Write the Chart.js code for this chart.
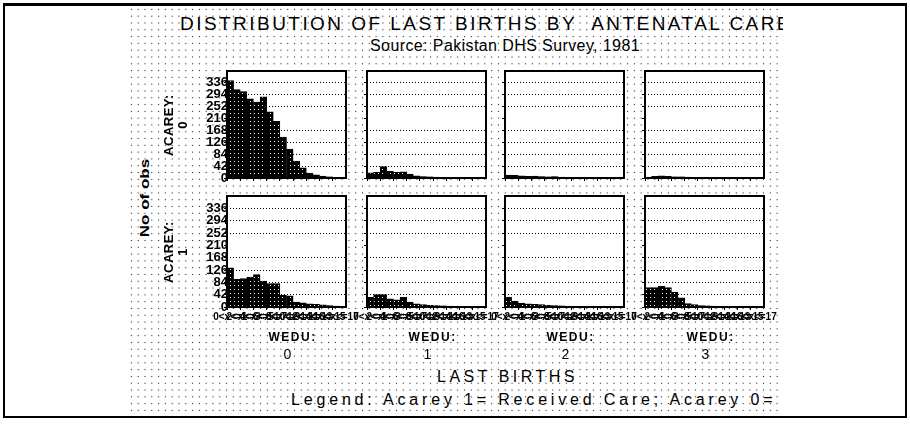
<!DOCTYPE html>
<html lang="en">
<head>
<meta charset="UTF-8">
<title>Distribution of last births by antenatal care</title>
<script src="https://cdn.jsdelivr.net/npm/chart.js@4.4.1/dist/chart.umd.min.js"></script>
<style>
  html, body { margin: 0; padding: 0; background: #fff; }
  body { width: 910px; height: 426px; position: relative; overflow: hidden;
         font-family: "Liberation Sans", Arial, sans-serif; color: #000; }
  .frame { position: absolute; left: 3px; top: 3px; width: 900px; height: 410px;
           border: 2px solid #000; border-top-width: 3px; }
  .dots { position: absolute; left: 128px; top: 6px; width: 655px; height: 407px; overflow: hidden;
          background-image: radial-gradient(circle, #222 0.55px, transparent 1px);
          background-size: 6.8px 6.8px; }
  .dots canvas { position: absolute; left: -128px; top: -6px; }
  .t { position: absolute; white-space: pre; line-height: 1; transform: translateY(-50%); }
  .rot { position: absolute; white-space: pre; line-height: 1.05; text-align: center;
         transform: translate(-50%, -50%) rotate(-90deg); }
</style>
</head>
<body>
<div class="frame"></div>
<div class="dots" id="plot">
  <div class="t" id="title" style="font-size:19px; left:52px; top:17px;">DISTRIBUTION OF LAST BIRTHS BY  ANTENATAL CARE</div>
  <div class="t" id="subtitle" style="font-size:16px; left:242px; top:40px;">Source: Pakistan DHS Survey, 1981</div>
  <div class="rot" style="font-size:17px; font-weight:bold; left:17px; top:192px; transform: translate(-50%,-50%) rotate(-90deg) scaleY(0.7);">No of obs</div>
  <div class="t" id="xtitle" style="font-size:16px; left:309px; top:371px;">LAST BIRTHS</div>
  <div class="t" id="legend" style="font-size:16px; left:163px; top:394px;">Legend: Acarey 1= Received Care; Acarey 0= No Care</div>
</div>

<script>
  // bins of the histogram (x axis), same for every panel
  const bins = ['0<x<=1', '1<x<=2', '2<x<=3', '3<x<=4', '4<x<=5', '5<x<=6', '6<x<=7', '7<x<=8', '8<x<=9',
                '9<x<=10', '10<x<=11', '11<x<=12', '12<x<=13', '13<x<=14', '14<x<=15', '15<x<=16', '16<x<=17', 'x>17'];
  const yTicks = [0, 42, 84, 126, 168, 210, 252, 294, 336];
  const yMax = 378;
  const weduLevels = ['0', '1', '2', '3'];
  const acareyLevels = ['0', '1'];

  // counts, one array per panel (acarey row x wedu column)
  const acarey0wedu0 = [344, 312, 305, 280, 268, 287, 234, 200, 145, 102, 60, 36, 17, 11, 7, 4, 2, 1];
  const acarey0wedu1 = [18, 20, 40, 24, 20, 22, 14, 8, 5, 4, 3, 2, 2, 1, 1, 1, 0, 0];
  const acarey0wedu2 = [10, 9, 8, 6, 7, 5, 4, 5, 3, 2, 2, 1, 1, 1, 0, 0, 0, 0];
  const acarey0wedu3 = [3, 6, 8, 6, 4, 4, 3, 2, 2, 1, 1, 1, 0, 0, 0, 0, 0, 0];
  const acarey1wedu0 = [133, 94, 97, 102, 110, 88, 80, 80, 40, 38, 17, 14, 11, 9, 7, 5, 3, 2];
  const acarey1wedu1 = [33, 42, 42, 28, 24, 33, 17, 11, 8, 6, 5, 4, 3, 2, 2, 1, 1, 0];
  const acarey1wedu2 = [34, 19, 13, 11, 9, 8, 6, 5, 4, 3, 2, 2, 1, 1, 1, 0, 0, 0];
  const acarey1wedu3 = [66, 66, 70, 66, 51, 31, 12, 8, 5, 4, 3, 2, 1, 1, 0, 0, 0, 0];

  const panels = [
    [acarey0wedu0, acarey0wedu1, acarey0wedu2, acarey0wedu3],
    [acarey1wedu0, acarey1wedu1, acarey1wedu2, acarey1wedu3]
  ];

  // panel geometry
  const colLeft = [227, 367, 505, 645];
  const panelW = 119;
  const rowTop = [71, 196];
  const rowH = [107, 111];
  const W = 910, H = 426;

  // black fill with white specks, like the scanned hatch
  function hatch() {
    const c = document.createElement('canvas');
    c.width = 4; c.height = 4;
    const g = c.getContext('2d');
    g.fillStyle = '#000';
    g.fillRect(0, 0, 4, 4);
    g.fillStyle = '#fff';
    g.fillRect(2, 1, 1, 1);
    return g.createPattern(c, 'repeat');
  }
  const pattern = hatch();

  const framePlugin = {
    id: 'frame',
    beforeDraw(chart) {
      const a = chart.chartArea, ctx = chart.ctx;
      ctx.save();
      ctx.fillStyle = '#fff';
      ctx.fillRect(a.left, a.top, a.right - a.left, a.bottom - a.top);
      ctx.restore();
    },
    afterDraw(chart) {
      const a = chart.chartArea, ctx = chart.ctx;
      ctx.save();
      ctx.lineWidth = 2;
      ctx.strokeStyle = '#000';
      ctx.strokeRect(a.left, a.top, a.right - a.left, a.bottom - a.top);
      ctx.restore();
    }
  };

  const plot = document.getElementById('plot');

  function drawPanel(row, col) {
    const canvas = document.createElement('canvas');
    canvas.width = W;
    canvas.height = H;
    plot.appendChild(canvas);

    const yW = col === 0 ? 30 : 4;
    const xH = row === 1 ? 18 : 4;
    const left = colLeft[col], top = rowTop[row];

    new Chart(canvas, {
      type: 'bar',
      data: {
        labels: bins,
        datasets: [{
          data: panels[row][col],
          backgroundColor: pattern,
          borderColor: '#000',
          borderWidth: 1,
          barPercentage: 1,
          categoryPercentage: 1
        }]
      },
      plugins: [framePlugin],
      options: {
        responsive: false,
        animation: false,
        devicePixelRatio: 1,
        layout: {
          autoPadding: false,
          padding: { left: left - yW, top: top, right: W - left - panelW, bottom: H - top - rowH[row] - xH }
        },
        plugins: { legend: { display: false }, tooltip: { enabled: false } },
        scales: {
          x: {
            offset: true,
            border: { display: false },
            grid: {
              drawOnChartArea: false,
              offset: true,
              tickLength: 3,
              tickColor: (c) => c.index % 2 === 0 ? '#000' : 'rgba(0,0,0,0)'
            },
            ticks: {
              display: row === 1,
              autoSkip: false,
              maxRotation: 0,
              minRotation: 0,
              padding: 1,
              color: '#000',
              font: { family: 'Liberation Sans', size: 10, weight: 'bold' },
              callback: (v, i) => i % 2 === 0 ? bins[i] : ''
            },
            afterFit: (s) => { s.height = xH; }
          },
          y: {
            min: 0,
            max: yMax,
            border: { display: false, dash: [1, 2] },
            afterBuildTicks: (s) => { s.ticks = yTicks.map(v => ({ value: v })); },
            grid: {
              color: (c) => (c.tick && c.tick.value === 210) ? 'rgba(0,0,0,0)' : '#000',
              tickColor: '#000',
              tickLength: 3,
              lineWidth: 1
            },
            ticks: {
              display: col === 0,
              autoSkip: false,
              padding: -4,
              color: '#000',
              font: { family: 'Liberation Sans', size: 13, weight: 'bold' }
            },
            afterFit: (s) => { s.width = yW; }
          }
        }
      }
    });
  }

  for (let r = 0; r < 2; r++) {
    for (let c = 0; c < 4; c++) drawPanel(r, c);
  }

  // row labels (rotated) and column labels
  function addText(cls, text, x, y, style) {
    const el = document.createElement('div');
    el.className = cls;
    el.textContent = text;
    el.style.left = (x - 128) + 'px';
    el.style.top = (y - 6) + 'px';
    Object.assign(el.style, style || {});
    plot.appendChild(el);
    return el;
  }
  acareyLevels.forEach((v, r) => {
    addText('rot', 'ACAREY:\n' + v, 176, rowTop[r] + rowH[r] / 2,
      { fontSize: '13px', fontWeight: 'bold', letterSpacing: '0.5px' });
  });
  weduLevels.forEach((v, c) => {
    const cx = colLeft[c] + panelW / 2;
    addText('t', 'WEDU:', cx - 18, 337, { fontSize: '12px', fontWeight: 'bold', letterSpacing: '1.5px' });
    addText('t', v, cx - 3, 354, { fontSize: '14px' });
  });

  // spread header/footer text to the widths seen in the reference
  function fit(id, width) {
    const el = document.getElementById(id);
    const n = el.textContent.length;
    const natural = el.getBoundingClientRect().width;
    el.style.letterSpacing = ((width - natural) / n) + 'px';
  }
  fit('title', 612);
  fit('subtitle', 270);
  fit('xtitle', 141);
  fit('legend', 580);
</script>
</body>
</html>
